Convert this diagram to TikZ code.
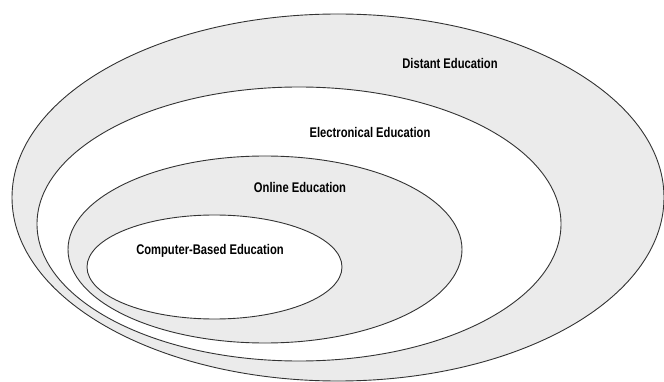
\documentclass[tikz,border=0pt]{standalone}
\usepackage{fontspec}
\setmainfont{Liberation Sans}[FakeStretch=0.8]
\usetikzlibrary{shapes.geometric}
\definecolor{ringgray}{HTML}{EBEBEB}
\definecolor{ringline}{HTML}{333333}
\begin{document}
\begin{tikzpicture}[x=1pt,y=-1pt,
  ring/.style={ellipse, draw=ringline, line width=0.9pt, inner sep=0pt},
  grayring/.style={ring, fill=ringgray},
  whitering/.style={ring, fill=white},
  tag/.style={font=\fontsize{14}{16}\selectfont\bfseries, inner sep=0pt}]
\useasboundingbox (0,0) rectangle (664,382);
% nested areas, outermost first
\node[grayring,  minimum width=652pt, minimum height=367pt] (distant)  at (338,197.5) {};
\node[whitering, minimum width=524pt, minimum height=274pt] (electro)  at (299,224) {};
\node[grayring,  minimum width=394pt, minimum height=187pt] (online)   at (265,249.5) {};
\node[whitering, minimum width=255pt, minimum height=104pt] (computer) at (214.5,267) {};
% area names
\node[tag] (tdistant)  at (450,63)  {Distant Education};
\node[tag] (telectro)  at (370,132) {Electronical Education};
\node[tag] (tonline)   at (300,187) {Online Education};
\node[tag] (tcomputer) at (210,251) {Computer-Based Education};
\end{tikzpicture}
\end{document}
